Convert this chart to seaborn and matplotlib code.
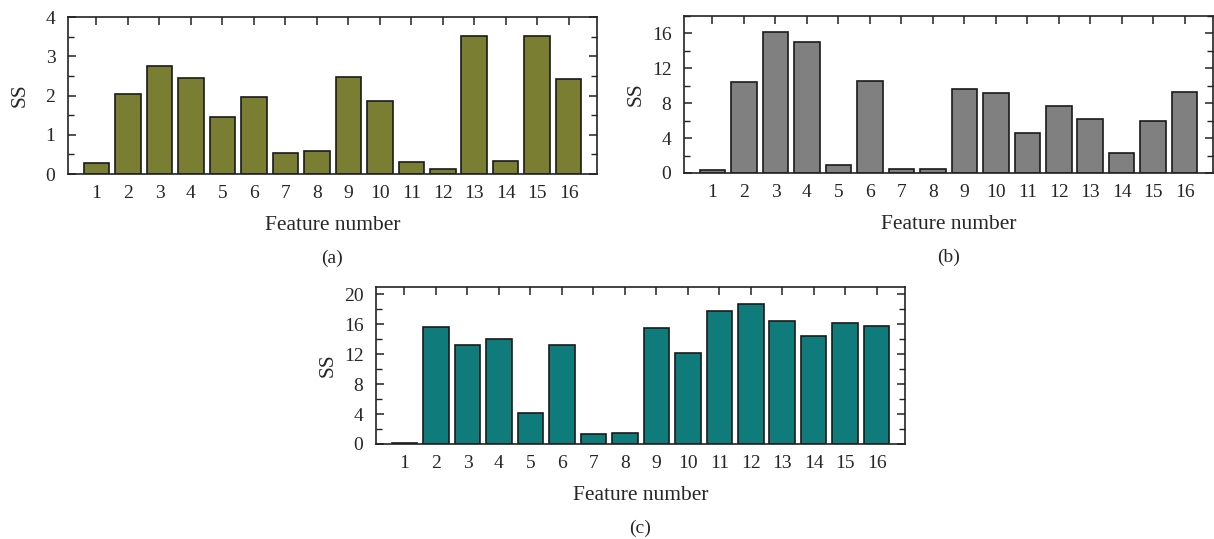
import numpy as np
import pandas as pd
import matplotlib
matplotlib.use("Agg")
import matplotlib.pyplot as plt
import seaborn as sns
from matplotlib.ticker import MultipleLocator

features = list(range(1, 17))
ss_a = [0.27, 2.05, 2.74, 2.45, 1.46, 1.97, 0.54, 0.59, 2.48, 1.85, 0.30, 0.13, 3.52, 0.34, 3.52, 2.43]
ss_b = [0.38, 10.4, 16.19, 15.04, 0.96, 10.51, 0.5, 0.5, 9.59, 9.13, 4.53, 7.64, 6.14, 2.30, 5.95, 9.32]
ss_c = [0.18, 15.6, 13.18, 14.04, 4.08, 13.27, 1.35, 1.48, 15.52, 12.2, 17.85, 18.74, 16.41, 14.44, 16.23, 15.74]

sns.set_theme(style="white")
plt.rcParams['font.family'] = ['Liberation Serif', 'DejaVu Serif']

W, H = 1214, 539
fig = plt.figure(figsize=(W / 100, H / 100), dpi=100)


def px_axes(left, top, right, bottom):
    return fig.add_axes([left / W, 1 - bottom / H, (right - left) / W, (bottom - top) / H])


panels = [
    (ss_a, "#7a7e33", (68, 17, 597, 174), 4, [0, 1, 2, 3, 4], 0.5, "(a)"),
    (ss_b, "#808080", (684, 16, 1213, 173), 18, [0, 4, 8, 12, 16], 2, "(b)"),
    (ss_c, "#0f7b7b", (376, 287, 905, 444), 21, [0, 4, 8, 12, 16, 20], 2, "(c)"),
]

for vals, color, box, ymax, yt, minor, tag in panels:
    ax = px_axes(*box)
    df = pd.DataFrame({"feature": [str(f) for f in features], "SS": vals})
    sns.barplot(data=df, x="feature", y="SS", color=color, saturation=1,
                width=0.81, edgecolor="#1a1a1a", linewidth=1.2, ax=ax)
    ax.set_xlim(-0.905, 15.9)
    ax.set_ylim(0, ymax)
    ax.set_yticks(yt)
    ax.yaxis.set_minor_locator(MultipleLocator(minor))
    for s in ax.spines.values():
        s.set_visible(True)
        s.set_color("#222222")
        s.set_linewidth(1.2)
    ax.tick_params(axis="x", bottom=False, top=True, direction="in", length=6,
                   width=1.1, color="#222222", labelbottom=True, labeltop=False,
                   labelsize=14, pad=8)
    ax.tick_params(axis="y", which="major", left=True, right=True, direction="in",
                   length=6, width=1.1, color="#222222", labelsize=14, pad=9)
    ax.tick_params(axis="y", which="minor", left=True, right=True, direction="in",
                   length=4, width=1.0, color="#222222")
    ax.set_xlabel("Feature number", fontsize=15.5)
    ax.set_ylabel("SS", fontsize=15.5)
    ax.xaxis.set_label_coords(0.5, -0.27)
    ax.yaxis.set_label_coords(-0.073, 0.5)
    ax.text(0.5, -0.535, tag, transform=ax.transAxes, ha="center", va="center", fontsize=14)

fig.savefig("out.png", dpi=100)
